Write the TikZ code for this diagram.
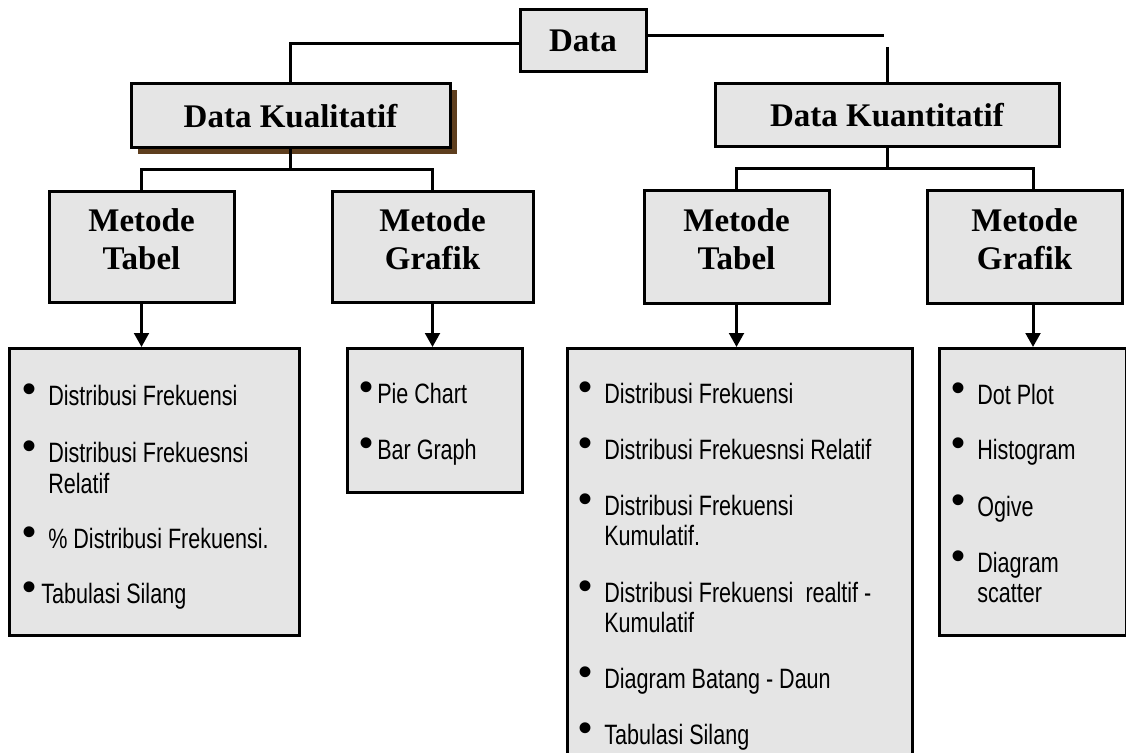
\documentclass[tikz,border=0pt]{standalone}
\usepackage{fontspec}
\setmainfont{Liberation Serif}
\newfontfamily\narrowfont{Liberation Sans}[FakeStretch=0.77]
\newfontfamily\bulfont{Liberation Sans}
\usetikzlibrary{arrows.meta, positioning, shadows}

\definecolor{granite}{RGB}{229,229,229}
\definecolor{shadowbrown}{RGB}{94,62,30}

% bullet hanging left of the item text, #1 = gap to the text
\newcommand\bul[1][9pt]{\llap{\raisebox{2.2pt}{\bulfont\fontsize{30}{30}\selectfont\textbullet}\hspace{#1}}}
% extra depth under a two-line header
\newcommand\lowstrut{\rule[-12pt]{0pt}{0pt}}

\begin{document}
\begin{tikzpicture}[x=0.75pt, y=-0.75pt, >={Triangle[length=10.5pt, width=11pt]},
      hdr/.style={draw, line width=2.25pt, fill=granite, inner sep=0pt, align=center,
                  font=\bfseries\fontsize{24.75}{28.5}\selectfont},
      lst/.style={draw, line width=2.25pt, fill=granite, inner sep=0pt, anchor=north west},
      itm/.style={anchor=base west, inner sep=0pt,
                  font=\narrowfont\fontsize{21}{24}\selectfont},
      ln/.style={line width=2.25pt},
      arr/.style={->, line width=2.25pt}]

    \useasboundingbox (0,0) rectangle (1126,752);

    % ---- Layout ----
    \def\ytop{347}     % top edge of the list boxes
    \def\ymet{247}     % centre of the Metode boxes

    % ---- top levels ----
    \node[hdr, minimum width=94.5pt, minimum height=46.5pt] (data) at (583,41) {Data};
    \node[hdr, minimum width=239.25pt, minimum height=48pt,
          drop shadow={shadow xshift=5pt, shadow yshift=-4.5pt, fill=shadowbrown, opacity=1}]
          (kual) at (290.5,116) {Data Kualitatif};
    \node[hdr, minimum width=258pt, minimum height=47.25pt] (kuan) at (887,115.5) {Data Kuantitatif};

    % ---- Metode boxes ----
    \node[hdr, minimum width=138.75pt, minimum height=83.25pt] (mtL) at (141.5,\ymet) {Metode\\Tabel\lowstrut};
    \node[hdr, minimum width=150.75pt, minimum height=82.5pt]  (mgL) at (432.5,\ymet) {Metode\\Grafik\lowstrut};
    \node[hdr, minimum width=138.75pt, minimum height=84pt]    (mtR) at (736.5,\ymet) {Metode\\Tabel\lowstrut};
    \node[hdr, minimum width=146.25pt, minimum height=84pt]    (mgR) at (1024.5,\ymet) {Metode\\Grafik\lowstrut};

    % ---- list boxes ----
    \node[lst, minimum width=217.5pt,  minimum height=215.25pt] (lstL) at (8,\ytop)   {};
    \node[lst, minimum width=131.25pt, minimum height=108pt]    (lst2) at (346,\ytop) {};
    \node[lst, minimum width=258.75pt, minimum height=318pt]    (lst3) at (566,\ytop) {};
    \node[lst, minimum width=140.25pt, minimum height=215.25pt] (lst4) at (938,\ytop) {};

    % ---- tree lines ----
    \draw[ln] ([yshift=-2.25pt]data.west) -| (kual.north);
    \coordinate (dR) at (884,36);
    \coordinate (kT) at (887,47);
    \draw[ln] ([yshift=3.75pt]data.east) -- (dR);
    \draw[ln] (kT) -- (kuan.north);

    \draw[ln] (kual.south) -- ++(0,20) coordinate (kualJ);
    \draw[ln] (mtL.north) |- (kualJ) -| (mgL.north);
    \draw[ln] (kuan.south) -- ++(0,20) coordinate (kuanJ);
    \draw[ln] (mtR.north) |- (kuanJ) -| (lst4.north |- mgR.north);

    % ---- arrows down to the lists ----
    \draw[arr] (mtL.south) -- (mtL.south |- lstL.north);
    \draw[arr] (mgL.south) -- (mgL.south |- lst2.north);
    \draw[arr] (mtR.south) -- (mtR.south |- lst3.north);
    \draw[arr] (lst4.north |- mgR.south) -- (lst4.north);

    % ---- list items ----
    \foreach \y/\t [count=\i] in {405/{\bul Distribusi Frekuensi}, 462/{\bul Distribusi Frekuesnsi},
        493/Relatif, 548/{\bul \% Distribusi Frekuensi.}}
      \node[itm] (ql\i) at (48,\y) {\t};
    \node[itm] (ql5) at (41,603) {\bul[3.75pt]Tabulasi Silang};

    \node[itm] (qg1) at (377,403) {\bul[3pt]Pie Chart};
    \node[itm] (qg2) at (377,459) {\bul[3pt]Bar Graph};

    \foreach \y/\t [count=\i] in {403/{\bul Distribusi Frekuensi}, 459/{\bul Distribusi Frekuesnsi Relatif},
        515/{\bul Distribusi Frekuensi}, 545/Kumulatif., 602/{\bul Distribusi Frekuensi\ \ realtif -},
        632/Kumulatif, 688/{\bul Diagram Batang - Daun}, 744/{\bul Tabulasi Silang}}
      \node[itm] (nt\i) at (604,\y) {\t};

    \foreach \y/\t [count=\i] in {404/{\bul Dot Plot}, 459/{\bul Histogram}, 516/{\bul Ogive},
        572/{\bul Diagram}, 602/scatter}
      \node[itm] (ng\i) at (977,\y) {\t};

\end{tikzpicture}
\end{document}
